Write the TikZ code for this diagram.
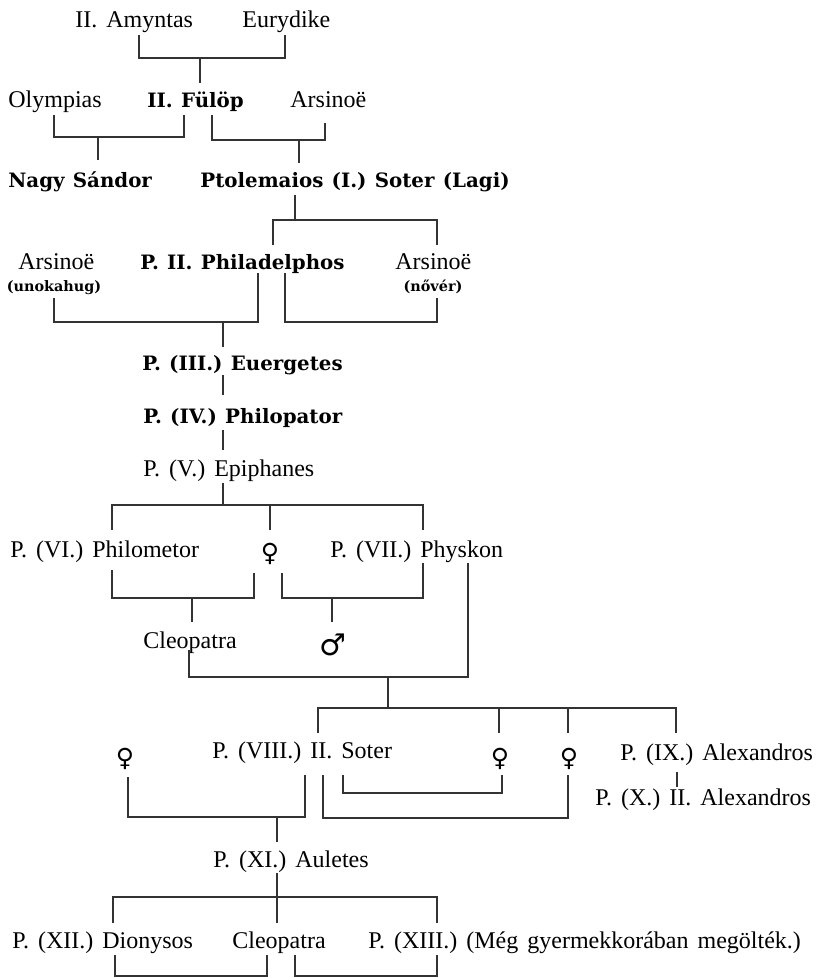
\documentclass[tikz,border=0pt]{standalone}
\usepackage{fontspec}
\setmainfont{Liberation Serif}[WordSpace=1.5]
\newfontfamily\slab{DejaVu Serif}[WordSpace=1.2]
\newfontfamily\signs{DejaVu Sans}
\begin{document}
\begin{tikzpicture}
		[x=0.5pt, y=-0.5pt,
		person/.style = {anchor=base west, inner sep=0pt, font=\fontsize{12}{14}\selectfont},
		ruler/.style = {anchor=base west, inner sep=0pt, font=\slab\bfseries\fontsize{9.9}{12}\selectfont},
		remark/.style = {anchor=base, inner sep=0pt, font=\slab\bfseries\fontsize{7.2}{8}\selectfont},
		sexsign/.style = {inner sep=0pt, font=\signs\fontsize{12.5}{14}\selectfont},
		kin/.style = {line width=0.6pt, black!80}
		]
		\useasboundingbox (0,0) rectangle (825,978);

		% names
		\node[person] (amyntas) at (75,28) {II. Amyntas};
		\node[person] (eurydike) at (242,28) {Eurydike};
		\node[person] (olympias) at (8,108) {Olympias};
		\node[ruler] (fulop) at (147,108) {II. Fülöp};
		\node[person] (arsinoeA) at (290,108) {Arsinoë};
		\node[ruler] (sandor) at (8,188) {Nagy Sándor};
		\node[ruler] (soterI) at (200,188) {Ptolemaios (I.) Soter (Lagi)};
		\node[person] (arsinoeB) at (18,270) {Arsinoë};
		\node[remark] (unoka) at (54,292) {(unokahug)};
		\node[ruler] (phila) at (140,270) {P. II. Philadelphos};
		\node[person] (arsinoeC) at (395,270) {Arsinoë};
		\node[remark] (nover) at (433,292) {(nővér)};
		\node[ruler] (euerg) at (142,370) {P. (III.) Euergetes};
		\node[ruler] (philop) at (143,423) {P. (IV.) Philopator};
		\node[person] (epiph) at (143,476) {P. (V.) Epiphanes};
		\node[person] (philom) at (10,557) {P. (VI.) Philometor};
		\node[sexsign] (fem1) at (270,554) {♀};
		\node[person] (physkon) at (330,557) {P. (VII.) Physkon};
		\node[person] (cleo1) at (143,648) {Cleopatra};
		\node[sexsign, font=\signs\fontsize{15}{16}\selectfont] (male1) at (333,645) {♂};
		\node[sexsign] (fem2) at (125,759) {♀};
		\node[person] (soter2) at (212,758) {P. (VIII.) II. Soter};
		\node[sexsign] (fem3) at (500,759) {♀};
		\node[sexsign] (fem4) at (569,759) {♀};
		\node[person] (alex1) at (620,760) {P. (IX.) Alexandros};
		\node[person] (alex2) at (595,805) {P. (X.) II. Alexandros};
		\node[person] (auletes) at (213,867) {P. (XI.) Auletes};
		\node[person] (dionysos) at (12,948) {P. (XII.) Dionysos};
		\node[person] (cleo2) at (232,948) {Cleopatra};
		\node[person] (ptol13) at (368,948) {P. (XIII.) (Még gyermekkorában megölték.)};

		% hooks under and over the names
		\coordinate (amyntas-d) at (139,35);
		\coordinate (eurydike-d) at (285,35);
		\coordinate (fulop-u) at (200,83);
		\coordinate (olympias-d) at (54,115);
		\coordinate (fulop-dl) at (184,115);
		\coordinate (fulop-dr) at (212,115);
		\coordinate (arsinoeA-d) at (325,123);
		\coordinate (sandor-u) at (98,160);
		\coordinate (soterI-u) at (299,163);
		\coordinate (soterI-d) at (295,195);
		\coordinate (phila-u) at (273,245);
		\coordinate (arsinoeC-u) at (437,245);
		\coordinate (arsinoeB-d) at (54,298);
		\coordinate (phila-dl) at (258,273);
		\coordinate (phila-dr) at (285,273);
		\coordinate (arsinoeC-d) at (437,298);
		\coordinate (euerg-u) at (223,347);
		\coordinate (euerg-d) at (223,375);
		\coordinate (philop-u) at (223,395);
		\coordinate (philop-d) at (223,430);
		\coordinate (epiph-u) at (223,450);
		\coordinate (epiph-d) at (223,483);
		\coordinate (philom-u) at (112,530);
		\coordinate (fem1-u) at (270,530);
		\coordinate (physkon-u) at (423,530);
		\coordinate (philom-d) at (112,570);
		\coordinate (fem1-dl) at (254,573);
		\coordinate (fem1-dr) at (282,573);
		\coordinate (physkon-dl) at (423,563);
		\coordinate (physkon-dr) at (468,563);
		\coordinate (cleo1-u) at (192,622);
		\coordinate (male1-u) at (332,622);
		\coordinate (cleo1-d) at (189,650);
		\coordinate (soter2-u) at (318,733);
		\coordinate (fem3-u) at (499,733);
		\coordinate (fem4-u) at (568,733);
		\coordinate (alex1-u) at (676,733);
		\coordinate (fem2-d) at (128,777);
		\coordinate (soter2-dl) at (305,775);
		\coordinate (soter2-dm) at (323,775);
		\coordinate (soter2-dr) at (343,775);
		\coordinate (fem3-d) at (502,775);
		\coordinate (fem4-d) at (568,775);
		\coordinate (alex1-d) at (677,772);
		\coordinate (alex2-u) at (677,787);
		\coordinate (auletes-u) at (277,842);
		\coordinate (auletes-d) at (277,873);
		\coordinate (dionysos-u) at (113,923);
		\coordinate (cleo2-u) at (277,923);
		\coordinate (ptol13-u) at (437,923);
		\coordinate (dionysos-d) at (115,955);
		\coordinate (cleo2-dl) at (267,955);
		\coordinate (cleo2-dr) at (295,955);
		\coordinate (ptol13-d) at (437,955);

		% marriages and children
		\coordinate (wed1) at (200,58);
		\coordinate (wed2) at (98,137);
		\coordinate (wed3) at (299,140);
		\coordinate (kids1) at (295,220);
		\coordinate (wed4) at (223,322);
		\coordinate (wed5) at (360,322);
		\coordinate (kids2) at (223,505);
		\coordinate (wed6) at (192,598);
		\coordinate (wed7) at (332,598);
		\coordinate (wed8) at (388,677);
		\coordinate (kids3) at (388,708);
		\coordinate (wed9) at (277,817);
		\coordinate (wed10) at (420,793);
		\coordinate (wed11) at (450,818);
		\coordinate (kids4) at (277,897);
		\coordinate (wed12) at (190,976);
		\coordinate (wed13) at (360,976);

		\draw[kin] (amyntas-d) |- (wed1) -| (eurydike-d);
		\draw[kin] (wed1) -- (fulop-u);
		\draw[kin] (olympias-d) |- (wed2) -| (fulop-dl);
		\draw[kin] (wed2) -- (sandor-u);
		\draw[kin] (fulop-dr) |- (wed3) -| (arsinoeA-d);
		\draw[kin] (wed3) -- (soterI-u);
		\draw[kin] (soterI-d) -- (kids1);
		\draw[kin] (phila-u) |- (kids1) -| (arsinoeC-u);
		\draw[kin] (arsinoeB-d) |- (wed4) -| (phila-dl);
		\draw[kin] (wed4) -- (euerg-u);
		\draw[kin] (phila-dr) |- (wed5) -| (arsinoeC-d);
		\draw[kin] (euerg-d) -- (philop-u);
		\draw[kin] (philop-d) -- (epiph-u);
		\draw[kin] (epiph-d) -- (kids2);
		\draw[kin] (philom-u) |- (kids2) -| (physkon-u);
		\draw[kin] (fem1-u) -- (fem1-u |- kids2);
		\draw[kin] (philom-d) |- (wed6) -| (fem1-dl);
		\draw[kin] (wed6) -- (cleo1-u);
		\draw[kin] (fem1-dr) |- (wed7) -| (physkon-dl);
		\draw[kin] (wed7) -- (male1-u);
		\draw[kin] (cleo1-d) |- (wed8) -| (physkon-dr);
		\draw[kin] (wed8) -- (kids3);
		\draw[kin] (soter2-u) |- (kids3) -| (alex1-u);
		\foreach \k in {fem3,fem4}
			\draw[kin] (\k-u) -- (\k-u |- kids3);
		\draw[kin] (fem2-d) |- (wed9) -| (soter2-dl);
		\draw[kin] (wed9) -- (auletes-u);
		\draw[kin] (soter2-dr) |- (wed10) -| (fem3-d);
		\draw[kin] (soter2-dm) |- (wed11) -| (fem4-d);
		\draw[kin] (alex1-d) -- (alex2-u);
		\draw[kin] (auletes-d) -- (kids4);
		\draw[kin] (dionysos-u) |- (kids4) -| (ptol13-u);
		\draw[kin] (kids4) -- (cleo2-u);
		\draw[kin] (dionysos-d) |- (wed12) -| (cleo2-dl);
		\draw[kin] (cleo2-dr) |- (wed13) -| (ptol13-d);
	\end{tikzpicture}
\end{document}
